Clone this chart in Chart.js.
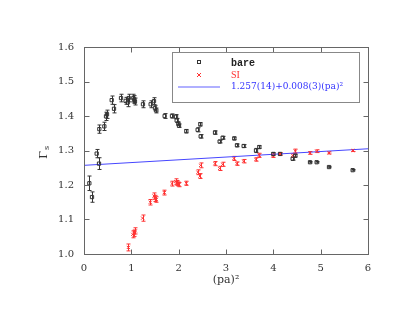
<!DOCTYPE html>
<html>
<head>
<meta charset="utf-8">
<script src="https://cdn.jsdelivr.net/npm/chart.js@4/dist/chart.umd.min.js"></script>
<style>
  html, body { margin: 0; padding: 0; background: #fff; }
  #wrap { width: 407px; height: 314px; }
</style>
</head>
<body>
<div id="wrap"><canvas id="c" width="407" height="314"></canvas></div>
<script>
// ---- data ----
const bareX   = [0.113, 0.169, 0.268, 0.317, 0.324, 0.430, 0.465, 0.486, 0.585, 0.634, 0.782, 0.880, 0.923, 0.944, 1.042, 1.063, 1.077, 1.246, 1.408, 1.479, 1.500, 1.528, 1.704, 1.859, 1.944, 1.958, 1.993, 2.007, 2.162, 2.401, 2.458, 2.465, 2.768, 2.866, 2.930, 3.176, 3.232, 3.373, 3.634, 3.704, 4.000, 4.141, 4.408, 4.465, 4.775, 4.915, 5.176, 5.676];
const bareY   = [1.205, 1.165, 1.291, 1.262, 1.362, 1.370, 1.399, 1.405, 1.446, 1.421, 1.452, 1.444, 1.439, 1.452, 1.452, 1.448, 1.442, 1.434, 1.434, 1.443, 1.423, 1.416, 1.400, 1.400, 1.398, 1.387, 1.378, 1.372, 1.356, 1.360, 1.376, 1.341, 1.352, 1.326, 1.337, 1.335, 1.315, 1.313, 1.300, 1.310, 1.290, 1.290, 1.276, 1.285, 1.266, 1.266, 1.252, 1.243];
const bareErr = [0.021, 0.015, 0.012, 0.017, 0.012, 0.012, 0.012, 0.012, 0.012, 0.012, 0.011, 0.010, 0.012, 0.011, 0.011, 0.011, 0.010, 0.010, 0.010, 0.010, 0.008, 0.007, 0.007, 0.006, 0.006, 0.006, 0.005, 0.005, 0.005, 0.006, 0.005, 0.005, 0.005, 0.004, 0.004, 0.004, 0.004, 0.004, 0.006, 0.004, 0.004, 0.003, 0.004, 0.004, 0.002, 0.002, 0.002, 0.002];

const siX   = [0.937, 1.030, 1.056, 1.085, 1.239, 1.401, 1.479, 1.500, 1.528, 1.697, 1.859, 1.937, 1.958, 1.979, 2.007, 2.162, 2.408, 2.451, 2.465, 2.768, 2.866, 2.930, 3.169, 3.232, 3.373, 3.634, 3.704, 3.993, 4.141, 4.408, 4.465, 4.775, 4.915, 5.176, 5.676];
const siY   = [1.019, 1.057, 1.060, 1.067, 1.104, 1.150, 1.168, 1.161, 1.158, 1.178, 1.204, 1.210, 1.206, 1.203, 1.201, 1.205, 1.237, 1.226, 1.257, 1.262, 1.248, 1.260, 1.277, 1.262, 1.269, 1.274, 1.286, 1.285, 1.290, 1.286, 1.298, 1.293, 1.298, 1.293, 1.300];
const siErr = [0.010, 0.010, 0.009, 0.009, 0.009, 0.008, 0.009, 0.009, 0.008, 0.007, 0.007, 0.008, 0.007, 0.006, 0.006, 0.006, 0.007, 0.007, 0.007, 0.006, 0.006, 0.006, 0.006, 0.005, 0.005, 0.005, 0.006, 0.005, 0.004, 0.005, 0.006, 0.004, 0.004, 0.003, 0.003];

const fitX = [0, 6];
const fitY = [1.257, 1.305];

const xTicks = [0, 1, 2, 3, 4, 5, 6];
const yTicks = [1.0, 1.1, 1.2, 1.3, 1.4, 1.5, 1.6];

const legendLabels = ['bare', 'SI', '1.257(14)+0.008(3)(pa)\u00B2'];
const xTitle = '(pa)\u00B2';
const yTitle = '\u0393';
const ySub = 's';

const BLACK = '#333';
const RED = 'rgb(255,50,50)';
const BLUE = 'rgb(70,70,255)';
const AXIS = '#666';

function pts(xs, ys) { return xs.map((x, i) => ({ x: x, y: ys[i] })); }

const errs = [bareErr, siErr];

const framePlugin = {
  id: 'frame',
  beforeDatasetsDraw(chart) {
    const ctx = chart.ctx;
    const xs = chart.scales.x, ys = chart.scales.y;
    [0, 1].forEach(di => {
      const ds = chart.data.datasets[di];
      ctx.save();
      ctx.strokeStyle = ds.borderColor;
      ctx.lineWidth = 1;
      ds.data.forEach((p, i) => {
        const e = errs[di][i];
        const px = Math.round(xs.getPixelForValue(p.x)) + 0.5;
        const y1 = ys.getPixelForValue(p.y - e);
        const y2 = ys.getPixelForValue(p.y + e);
        ctx.beginPath();
        ctx.moveTo(px, y1); ctx.lineTo(px, y2);
        ctx.moveTo(px - 2, y1); ctx.lineTo(px + 2, y1);
        ctx.moveTo(px - 2, y2); ctx.lineTo(px + 2, y2);
        ctx.stroke();
      });
      ctx.restore();
    });
  },
  afterDraw(chart) {
    const ctx = chart.ctx;
    const a = chart.chartArea;
    const xs = chart.scales.x, ys = chart.scales.y;
    ctx.save();
    ctx.strokeStyle = AXIS;
    ctx.lineWidth = 1;
    const L = Math.round(a.left) + 0.5, R = Math.round(a.right) + 0.5;
    const T = Math.round(a.top) + 0.5, B = Math.round(a.bottom) + 0.5;
    ctx.strokeRect(L, T, R - L, B - T);
    const tl = 5;
    ctx.beginPath();
    xTicks.forEach(v => {
      const px = Math.round(xs.getPixelForValue(v)) + 0.5;
      ctx.moveTo(px, B); ctx.lineTo(px, B - tl);
      ctx.moveTo(px, T); ctx.lineTo(px, T + tl);
    });
    yTicks.forEach(v => {
      const py = Math.round(ys.getPixelForValue(v)) + 0.5;
      ctx.moveTo(L, py); ctx.lineTo(L + tl, py);
      ctx.moveTo(R, py); ctx.lineTo(R - tl, py);
    });
    ctx.stroke();

    // axis titles
    ctx.fillStyle = '#333';
    ctx.font = '11px "DejaVu Serif"';
    ctx.textAlign = 'center';
    ctx.textBaseline = 'middle';
    ctx.fillText(xTitle, (a.left + a.right) / 2, 280);
    ctx.save();
    ctx.translate(44, 151);
    ctx.rotate(-Math.PI / 2);
    ctx.textAlign = 'right';
    ctx.fillText(yTitle, 0, 0);
    ctx.font = '8px "DejaVu Serif"';
    ctx.textAlign = 'left';
    ctx.fillText(ySub, 1, 3);
    ctx.restore();

    // legend box
    const bx = 172.5, by = 52.5, bw = 187, bh = 50;
    ctx.fillStyle = '#fff';
    ctx.fillRect(bx, by, bw, bh);
    ctx.strokeStyle = '#888';
    ctx.strokeRect(bx, by, bw, bh);
    ctx.strokeStyle = BLACK;
    ctx.strokeRect(197.5, 60.5, 3, 3);
    ctx.strokeStyle = RED;
    ctx.beginPath();
    ctx.moveTo(197, 73); ctx.lineTo(201, 77);
    ctx.moveTo(201, 73); ctx.lineTo(197, 77);
    ctx.stroke();
    ctx.strokeStyle = 'rgb(150,150,255)';
    ctx.lineWidth = 1.5;
    ctx.beginPath();
    ctx.moveTo(178, 87); ctx.lineTo(220, 87);
    ctx.stroke();

    ctx.textAlign = 'left';
    ctx.textBaseline = 'middle';
    ctx.fillStyle = '#222';
    ctx.font = 'bold 10px "Liberation Mono"';
    ctx.fillText(legendLabels[0], 231, 63);
    ctx.fillStyle = RED;
    ctx.font = '10px "Liberation Serif"';
    ctx.fillText(legendLabels[1], 231, 75);
    ctx.fillStyle = 'rgb(50,50,255)';
    ctx.font = '9px "DejaVu Serif"';
    ctx.fillText(legendLabels[2], 231, 87);
    ctx.restore();
  }
};

new Chart(document.getElementById('c'), {
  type: 'scatter',
  data: {
    datasets: [
      {
        label: legendLabels[0],
        data: pts(bareX, bareY),
        pointStyle: 'rect',
        pointRadius: 2.3,
        pointBorderWidth: 1,
        borderColor: BLACK,
        pointBorderColor: BLACK,
        pointBackgroundColor: 'rgba(255,255,255,0)',
        showLine: false
      },
      {
        label: legendLabels[1],
        data: pts(siX, siY),
        pointStyle: 'crossRot',
        pointRadius: 2.2,
        pointBorderWidth: 1,
        borderColor: RED,
        pointBorderColor: RED,
        showLine: false
      },
      {
        label: legendLabels[2],
        type: 'line',
        data: pts(fitX, fitY),
        borderColor: BLUE,
        borderWidth: 1,
        pointRadius: 0,
        fill: false
      }
    ]
  },
  options: {
    responsive: false,
    animation: false,
    devicePixelRatio: 1,
    layout: { padding: { left: 0, top: 47, right: 39, bottom: 0 } },
    plugins: { legend: { display: false }, tooltip: { enabled: false } },
    scales: {
      x: {
        type: 'linear', min: 0, max: 6,
        afterFit(s) { s.height = 60; },
        afterBuildTicks(s) { s.ticks = xTicks.map(v => ({ value: v })); },
        grid: { display: false, drawTicks: false },
        border: { display: false },
        ticks: { color: '#333', font: { family: 'DejaVu Serif', size: 10 }, padding: 8, maxRotation: 0,
          callback: v => String(v) }
      },
      y: {
        type: 'linear', min: 1.0, max: 1.6,
        afterFit(s) { s.width = 84; },
        afterBuildTicks(s) { s.ticks = yTicks.map(v => ({ value: v })); },
        grid: { display: false, drawTicks: false },
        border: { display: false },
        ticks: { color: '#333', font: { family: 'DejaVu Serif', size: 10 }, padding: 10,
          callback: v => Number(v).toFixed(1) }
      }
    }
  },
  plugins: [framePlugin]
});
</script>
</body>
</html>
